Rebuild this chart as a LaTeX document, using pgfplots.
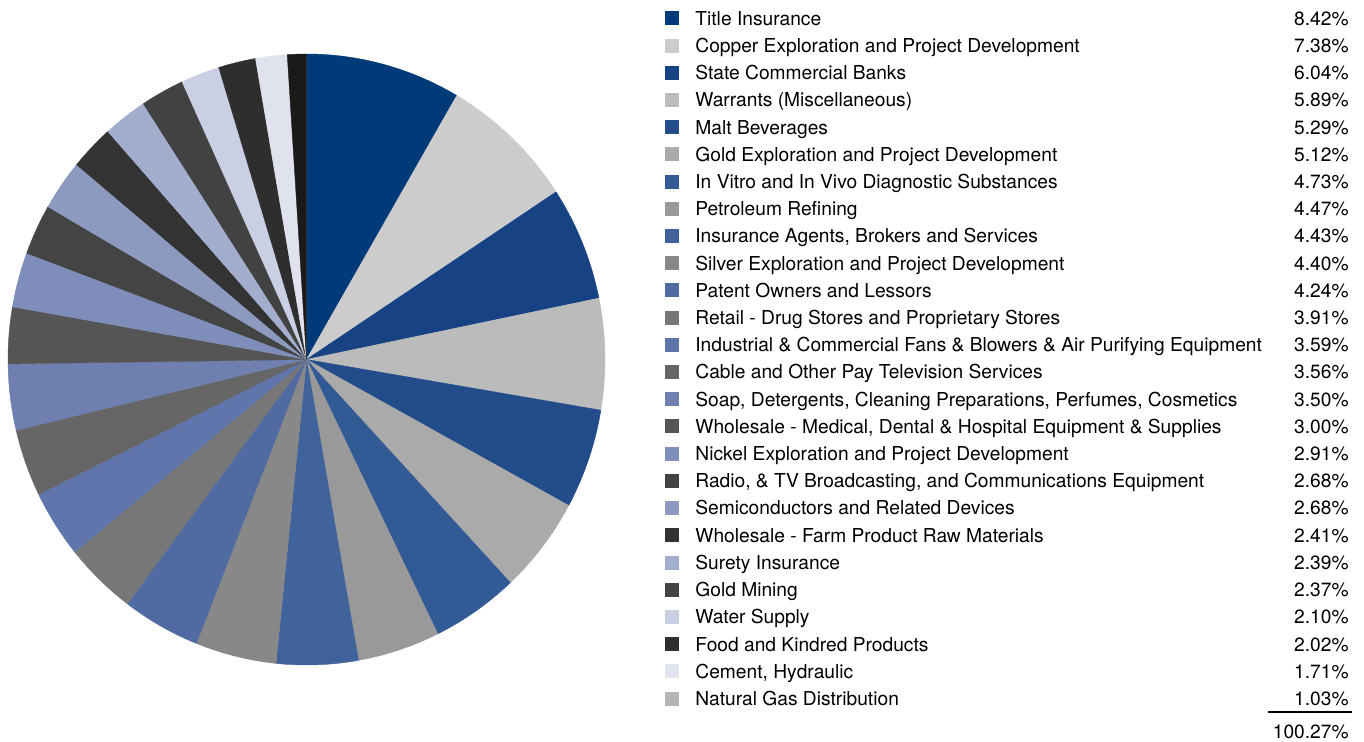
\documentclass[border=0pt]{standalone}
\usepackage{pgfplots}
\pgfplotsset{compat=1.18}
\usepackage{pgfplotstable}
\usepackage{fontspec}
\setmainfont{TeX Gyre Heros}

% slice colours (pie) and legend square colours
\definecolor{lc1}{HTML}{003A78}
\definecolor{lc2}{HTML}{CCCCCC}
\definecolor{lc3}{HTML}{174384}
\definecolor{lc4}{HTML}{BBBBBB}
\definecolor{lc5}{HTML}{234C8A}
\definecolor{lc6}{HTML}{AAAAAA}
\definecolor{lc7}{HTML}{325A95}
\definecolor{lc8}{HTML}{999999}
\definecolor{lc9}{HTML}{40639B}
\definecolor{lc10}{HTML}{888888}
\definecolor{lc11}{HTML}{506AA2}
\definecolor{lc12}{HTML}{777777}
\definecolor{lc13}{HTML}{5F75AB}
\definecolor{lc14}{HTML}{666666}
\definecolor{lc15}{HTML}{6F80B0}
\definecolor{lc16}{HTML}{555555}
\definecolor{lc17}{HTML}{7E8DB9}
\definecolor{lc18}{HTML}{444444}
\definecolor{lc19}{HTML}{8D9AC0}
\definecolor{lc20}{HTML}{333333}
\definecolor{lc21}{HTML}{A3ADCE}
\definecolor{lc22}{HTML}{424242}
\definecolor{lc23}{HTML}{CACFE3}
\definecolor{lc24}{HTML}{2E2E2E}
\definecolor{lc25}{HTML}{E0E2EE}
\definecolor{lc26}{HTML}{B5B5B5}
\colorlet{pc1}{lc1}\colorlet{pc2}{lc2}\colorlet{pc3}{lc3}\colorlet{pc4}{lc4}
\colorlet{pc5}{lc5}\colorlet{pc6}{lc6}\colorlet{pc7}{lc7}\colorlet{pc8}{lc8}
\colorlet{pc9}{lc9}\colorlet{pc10}{lc10}\colorlet{pc11}{lc11}\colorlet{pc12}{lc12}
\colorlet{pc13}{lc13}\colorlet{pc14}{lc14}\colorlet{pc15}{lc15}\colorlet{pc16}{lc16}
\colorlet{pc17}{lc17}\colorlet{pc18}{lc18}\colorlet{pc19}{lc19}\colorlet{pc20}{lc20}
\colorlet{pc21}{lc21}\colorlet{pc22}{lc22}\colorlet{pc23}{lc23}\colorlet{pc24}{lc24}
\colorlet{pc25}{lc25}
\definecolor{pc26}{HTML}{1A1A1A}

\pgfplotstableread[col sep=semicolon]{
name;val
Title Insurance;8.42
Copper Exploration and Project Development;7.38
State Commercial Banks;6.04
Warrants (Miscellaneous);5.89
Malt Beverages;5.29
Gold Exploration and Project Development;5.12
In Vitro and In Vivo Diagnostic Substances;4.73
Petroleum Refining;4.47
Insurance Agents, Brokers and Services;4.43
Silver Exploration and Project Development;4.40
Patent Owners and Lessors;4.24
Retail - Drug Stores and Proprietary Stores;3.91
Industrial \& Commercial Fans \& Blowers \& Air Purifying Equipment;3.59
Cable and Other Pay Television Services;3.56
Soap, Detergents, Cleaning Preparations, Perfumes, Cosmetics;3.50
Wholesale - Medical, Dental \& Hospital Equipment \& Supplies;3.00
Nickel Exploration and Project Development;2.91
Radio, \& TV Broadcasting, and Communications Equipment;2.68
Semiconductors and Related Devices;2.68
Wholesale - Farm Product Raw Materials;2.41
Surety Insurance;2.39
Gold Mining;2.37
Water Supply;2.10
Food and Kindred Products;2.02
Cement, Hydraulic;1.71
Natural Gas Distribution;1.03
}\piedata

\begin{document}
\begin{tikzpicture}[every node/.style={font=\fontsize{9.6}{11.5}\selectfont, inner sep=0pt}]
\begin{axis}[
    scale only axis,
    width=682pt, height=371pt,
    xmin=0, xmax=1364, ymin=0, ymax=742,
    y dir=reverse,
    hide axis,
    clip=false,
]
\path (axis cs:0,0) rectangle (axis cs:1364,742);
\pgfmathsetmacro{\pcum}{0}
\pgfplotsforeachungrouped \i in {1,...,26}{%
  \pgfmathtruncatemacro{\prow}{\i-1}%
  \pgfplotstablegetelem{\prow}{val}\of\piedata
  \let\pval\pgfplotsretval
  \pgfplotstablegetelem{\prow}{name}\of\piedata
  \let\pname\pgfplotsretval
  \pgfmathsetmacro{\pa}{90-\pcum/100.27*360}%
  \pgfmathsetmacro{\pcum}{\pcum+\pval}%
  \pgfmathsetmacro{\pb}{90-\pcum/100.27*360}%
  \pgfmathsetmacro{\ly}{18.5+27.2*\prow}%
  \pgfmathsetmacro{\lt}{\ly-7}%
  \pgfmathsetmacro{\lbt}{\ly+7}%
  \pgfmathsetmacro{\lb}{\ly+6.9}%
  \edef\tmp{%
    \noexpand\fill[pc\i, draw=pc\i, line width=0.2pt] (axis cs:306.5,359.5) -- ++(\pa:149.25pt and 152.75pt)
      arc[start angle=\pa, end angle=\pb, x radius=149.25pt, y radius=152.75pt] -- cycle;
    \noexpand\fill[lc\i] (axis cs:665,\lt) rectangle (axis cs:679,\lbt);
    \noexpand\node[anchor=base west] at (axis cs:695,\lb) {\pname};
    \noexpand\node[anchor=base east] at (axis cs:1349,\lb) {\pval\noexpand\%};
  }\tmp
}
\draw[line width=0.6pt] (axis cs:1268,712) -- (axis cs:1352,712);
\node[anchor=base east] at (axis cs:1349,738) {100.27\%};
\end{axis}
\end{tikzpicture}
\end{document}
